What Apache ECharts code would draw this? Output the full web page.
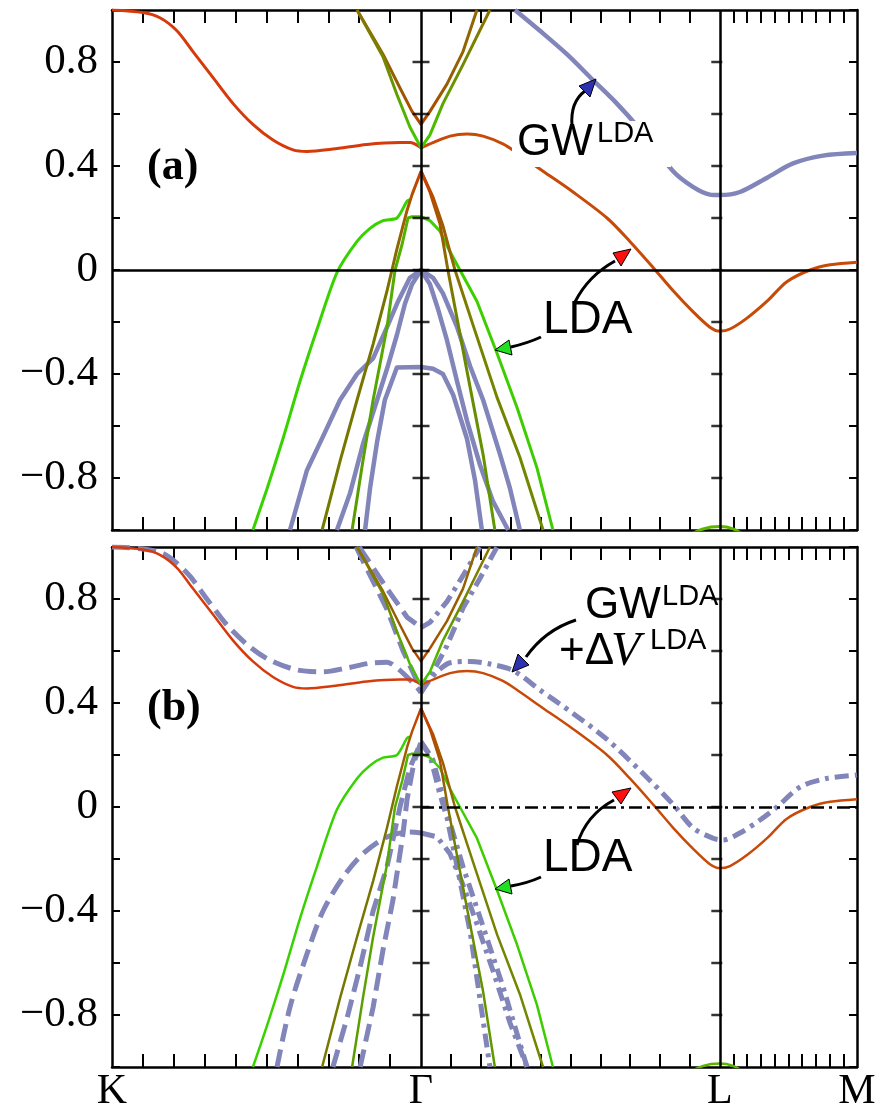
<!DOCTYPE html>
<html><head><meta charset="utf-8">
<script src="https://cdn.jsdelivr.net/npm/echarts@6/dist/echarts.min.js"></script>
<style>html,body{margin:0;padding:0;background:#fff}#c{width:887px;height:1107px}</style>
</head><body><div id="c"></div>
<script>
// ---- k-path (K-Γ = 1 unit) ----
const pathLabels = ['K', 'Γ', 'L', 'M'];
const pathPos = [0, 1, 1.967, 2.411];
const yTickVals = [-0.8, -0.6, -0.4, -0.2, 0, 0.2, 0.4, 0.6, 0.8];

// ---- LDA bands (identical in both panels) ----
const ldaRedKG = [[0,1.0],[0.10,0.99],[0.155,0.97],[0.21,0.92],[0.262,0.84],[0.327,0.74],[0.392,0.64],[0.456,0.56],[0.521,0.50],[0.586,0.462],[0.631,0.456],[0.715,0.465],[0.825,0.483],[0.932,0.49],[0.964,0.49],[1.0,0.47]];
const ldaRedGLM = [[1.0,0.47],[1.039,0.49],[1.094,0.515],[1.149,0.523],[1.201,0.515],[1.265,0.485],[1.311,0.45],[1.395,0.38],[1.492,0.30],[1.602,0.20],[1.676,0.11],[1.751,0.01],[1.816,-0.08],[1.880,-0.16],[1.935,-0.22],[1.967,-0.235],[2.0,-0.227],[2.055,-0.185],[2.120,-0.12],[2.184,-0.045],[2.259,0.0],[2.324,0.02],[2.411,0.03]];
const ldaVbrown = [[0.793,1.0],[0.877,0.83],[0.932,0.70],[0.971,0.61],[1.0,0.56],[1.029,0.61],[1.084,0.715],[1.136,0.84],[1.181,1.0]];
const ldaVgreen = [[0.793,1.0],[0.877,0.82],[0.922,0.675],[0.964,0.55],[1.0,0.47],[1.029,0.52],[1.071,0.64],[1.136,0.79],[1.223,1.0]];
const ldaWideGreen = [[0.456,-1.0],[0.502,-0.84],[0.553,-0.65],[0.608,-0.43],[0.663,-0.23],[0.728,-0.01],[0.793,0.11],[0.835,0.16],[0.877,0.19],[0.922,0.20],[0.955,0.265],[0.964,0.27]];
const ldaOlive = [[0.680,-1.0],[0.738,-0.735],[0.793,-0.50],[0.845,-0.285],[0.890,-0.08],[0.906,0.0],[0.922,0.08],[0.955,0.23],[0.971,0.29],[1.0,0.38]];
const ldaPlateau = [[0.777,-1.0],[0.812,-0.735],[0.845,-0.50],[0.890,-0.22],[0.916,0.0],[0.939,0.10],[0.958,0.20],[0.971,0.205],[1.0,0.205],[1.029,0.19],[1.061,0.15],[1.094,0.07],[1.126,0.0],[1.181,-0.12],[1.246,-0.32],[1.311,-0.53],[1.375,-0.76],[1.427,-1.0]];
const ldaR1 = [[1.0,0.38],[1.029,0.30],[1.061,0.18],[1.087,0.0],[1.149,-0.39],[1.201,-0.71],[1.239,-1.0]];
const ldaR2 = [[1.0,0.38],[1.039,0.28],[1.071,0.17],[1.110,0.0],[1.168,-0.21],[1.246,-0.49],[1.320,-0.72],[1.395,-1.0]];
const ldaArcL = [[1.854,-1.03],[1.913,-0.996],[1.967,-0.987],[2.010,-0.996],[2.049,-1.023]];

// ---- GW^LDA (panel a) ----
const gwCond = [[1.304,1.0],[1.385,0.92],[1.472,0.83],[1.557,0.73],[1.634,0.64],[1.702,0.55],[1.816,0.38],[1.880,0.32],[1.935,0.29],[1.967,0.288],[2.032,0.30],[2.120,0.355],[2.204,0.41],[2.301,0.44],[2.411,0.45]];
const gwVal1 = [[0.576,-1.0],[0.631,-0.77],[0.683,-0.64],[0.738,-0.50],[0.793,-0.40],[0.845,-0.34],[0.890,-0.22],[0.926,-0.12],[0.964,-0.03],[1.0,0.0],[1.039,-0.03],[1.071,-0.09],[1.117,-0.22],[1.159,-0.37],[1.201,-0.50],[1.256,-0.71],[1.288,-0.84],[1.320,-1.0]];
const gwVal2 = [[0.728,-1.0],[0.770,-0.86],[0.812,-0.67],[0.858,-0.50],[0.890,-0.38],[0.922,-0.25],[0.948,-0.13],[0.971,-0.055],[1.0,0.0],[1.029,-0.055],[1.055,-0.15],[1.084,-0.27],[1.117,-0.43],[1.149,-0.58],[1.191,-0.75],[1.233,-0.89],[1.282,-1.0]];
const gwVal3 = [[0.819,-1.0],[0.835,-0.84],[0.858,-0.66],[0.883,-0.50],[0.922,-0.375],[1.0,-0.373],[1.039,-0.38],[1.071,-0.40],[1.104,-0.48],[1.149,-0.65],[1.175,-0.81],[1.197,-1.0]];

// ---- GW^LDA + ΔV^LDA (panel b) ----
const gwdKG = [[0,1.0],[0.155,0.98],[0.243,0.90],[0.307,0.80],[0.372,0.70],[0.447,0.615],[0.511,0.565],[0.599,0.527],[0.683,0.52],[0.761,0.535],[0.835,0.553],[0.890,0.557],[0.922,0.535],[0.955,0.50],[0.987,0.46],[1.0,0.44]];
const gwdGLM = [[1.0,0.44],[1.023,0.48],[1.052,0.52],[1.094,0.555],[1.159,0.56],[1.223,0.55],[1.298,0.525],[1.385,0.45],[1.492,0.36],[1.602,0.26],[1.709,0.14],[1.816,0.01],[1.880,-0.08],[1.945,-0.12],[1.977,-0.127],[2.032,-0.10],[2.097,-0.05],[2.152,0.0],[2.227,0.077],[2.314,0.11],[2.411,0.123]];
const gwdCv1L = [[0.800,1.0],[0.890,0.84],[0.955,0.73],[1.0,0.69]];
const gwdCv1R = [[1.0,0.69],[1.029,0.71],[1.084,0.79],[1.136,0.89],[1.181,0.98],[1.19,1.0]];
const gwdCv2L = [[0.790,1.0],[0.890,0.76],[0.942,0.60],[0.981,0.50],[1.0,0.44]];
const gwdCv2R = [[1.0,0.44],[1.039,0.52],[1.084,0.62],[1.136,0.765],[1.191,0.88],[1.246,1.0]];
const gwdV1L = [[0.534,-1.0],[0.576,-0.77],[0.631,-0.565],[0.683,-0.40],[0.748,-0.27],[0.812,-0.18],[0.890,-0.115],[0.964,-0.096],[1.0,-0.10]];
const gwdV1R = [[1.0,-0.10],[1.052,-0.115],[1.094,-0.18],[1.136,-0.30],[1.181,-0.45],[1.233,-0.63],[1.288,-0.83],[1.343,-1.0]];
const gwdV2L = [[0.715,-1.0],[0.761,-0.81],[0.803,-0.615],[0.845,-0.40],[0.890,-0.23],[0.932,0.0],[0.964,0.15],[1.0,0.25]];
const gwdV2R = [[1.0,0.25],[1.029,0.20],[1.061,0.05],[1.084,-0.04],[1.117,-0.23],[1.159,-0.48],[1.191,-0.74],[1.223,-1.0]];
const gwdV3L = [[0.803,-1.0],[0.845,-0.77],[0.877,-0.55],[0.909,-0.36],[0.942,-0.10],[0.955,0.03],[0.977,0.17],[1.0,0.25]];
const gwdV3R = [[1.0,0.25],[1.039,0.18],[1.084,-0.02],[1.136,-0.23],[1.201,-0.46],[1.265,-0.69],[1.343,-1.0]];

// ---------------------------------------------------------------
const SERIF = 'Liberation Serif';
const GWC = '#8185b9';
const DASH = [18, 8];
const DASHDOT = [14, 6, 4, 6];

const xTickVals = [];
for (let s = 0; s < 3; s++) {
  for (let k = 1; k < 10; k++) xTickVals.push(pathPos[s] + k * (pathPos[s + 1] - pathPos[s]) / 10);
}

function vgrad(stops) { return {type:'linear', x:0, y:0, x2:0, y2:1, global:false, colorStops: stops.map(s => ({offset:s[0], color:s[1]}))}; }
function hgrad(stops) { return {type:'linear', x:0, y:0, x2:1, y2:0, global:false, colorStops: stops.map(s => ({offset:s[0], color:s[1]}))}; }

function band(gi, data, color, width, dash, smooth, z) {
  return {
    type:'line', xAxisIndex: gi * 2, yAxisIndex: gi * 2, data: data,
    symbol:'none', showSymbol:false, smooth: smooth || false, clip: true,
    lineStyle:{color: color, width: width, type: dash || 'solid', cap:'butt', join:'round'},
    itemStyle:{color: typeof color === 'string' ? color : '#888'},
    silent:true, animation:false, z: z || 3, emphasis:{disabled:true}
  };
}

function xLabel(v) {
  for (let i = 0; i < pathPos.length; i++) if (Math.abs(pathPos[i] - v) < 1e-6) return pathLabels[i];
  return '';
}
function yLabel(v) {
  if (Math.abs(v) > 0.95) return '';
  const r = v / 0.4;
  if (Math.abs(r - Math.round(r)) > 1e-6) return '';
  if (Math.abs(v) < 1e-9) return '0';
  return (v < 0 ? '\u2212' : '') + Math.abs(v).toFixed(1);
}

const axLine = {onZero:false, lineStyle:{color:'#000', width:2.5}};
function xAxes(gi, showLabels) {
  const base = {gridIndex: gi, type:'value', min: 0, max: pathPos[3], splitLine:{show:false},
    axisLine: axLine,
    axisTick:{show:true, inside:true, length:13, customValues: xTickVals, lineStyle:{color:'#000', width:2}}};
  return [
    Object.assign({}, base, {position:'bottom', axisLabel:{show: showLabels, customValues: pathPos, formatter: xLabel,
      showMinLabel:true, showMaxLabel:true, margin:4, fontFamily: SERIF, fontSize:42, color:'#000'}}),
    Object.assign({}, base, {position:'top', axisLabel:{show:false}})
  ];
}
function yAxes(gi) {
  const base = {gridIndex: gi, type:'value', min:-1, max:1, interval:0.2, splitLine:{show:false},
    axisLine: axLine, axisTick:{show:true, inside:true, length:8, lineStyle:{color:'#000', width:2}}};
  return [
    Object.assign({}, base, {position:'left', axisLabel:{show:true, formatter: yLabel, margin:14,
      fontFamily: SERIF, fontSize:43, color:'#000'}}),
    Object.assign({}, base, {position:'right', axisLabel:{show:false}})
  ];
}

function crossTicks(gi) {
  return [
    {type:'scatter', xAxisIndex: gi * 2, yAxisIndex: gi * 2, data: yTickVals.map(v => [pathPos[1], v]),
     symbol:'rect', symbolSize:[17, 2.5], itemStyle:{color:'#000'}, silent:true, animation:false, z:4},
    {type:'scatter', xAxisIndex: gi * 2, yAxisIndex: gi * 2, data: yTickVals.map(v => [pathPos[2], v]),
     symbol:'rect', symbolSize:[11, 2.5], symbolOffset:[-3, 0], itemStyle:{color:'#000'}, silent:true, animation:false, z:4}
  ];
}

function ldaSeries(gi, w) {
  return [
    band(gi, ldaRedKG, '#d63a0a', w, null, 0.3),
    band(gi, ldaRedGLM, '#c84a08', w, null, 0.3),
    band(gi, ldaVbrown, vgrad([[0,'#8d6a00'],[0.7,'#9a5a00'],[1,'#b84400']]), w),
    band(gi, ldaVgreen, vgrad([[0,'#8a7000'],[0.5,'#6b9000'],[1,'#3fd000']]), w),
    band(gi, ldaWideGreen, '#38d200', w, null, 0.25),
    band(gi, ldaOlive, vgrad([[0,'#d03c00'],[0.1,'#a85800'],[0.3,'#7a7200'],[1,'#747a00']]), w),
    band(gi, ldaPlateau, hgrad([[0,'#5c9a00'],[0.3,'#50b400'],[0.4,'#40d000'],[1,'#3ccc00']]), w),
    band(gi, ldaR1, vgrad([[0,'#d03c00'],[0.15,'#a05800'],[0.4,'#6e8400'],[1,'#5e9a00']]), w),
    band(gi, ldaR2, vgrad([[0,'#d03c00'],[0.15,'#a05a00'],[0.4,'#788000'],[1,'#6e8a00']]), w),
    band(gi, ldaArcL, '#5cb400', w, null, 0.4)
  ];
}

// markLines: Γ and L verticals, Fermi level
const vLines = [{xAxis: pathPos[1]}, {xAxis: pathPos[2]}];
const mlBase = {silent:true, symbol:['none','none'], label:{show:false}, animation:false,
  lineStyle:{color:'#000', width:2.5, type:'solid'}, emphasis:{disabled:true}};

const seriesA = [
  band(0, gwVal1, GWC, 4.5), band(0, gwVal2, GWC, 4.5), band(0, gwVal3, GWC, 4.5),
  band(0, gwCond, GWC, 4.5, null, 0.3)
].concat(ldaSeries(0, 3));
seriesA.push(Object.assign(band(0, [], '#000', 2.5), {markLine: Object.assign({}, mlBase, {data: vLines.concat([{yAxis: 0}])})}));

const seriesB = [
  band(1, gwdKG, GWC, 5, DASH, 0.3), band(1, gwdGLM, GWC, 5, DASHDOT, 0.3),
  band(1, gwdCv1L, GWC, 5, DASH), band(1, gwdCv1R, GWC, 5, DASHDOT),
  band(1, gwdCv2L, GWC, 5, DASH), band(1, gwdCv2R, GWC, 5, DASHDOT),
  band(1, gwdV1L, GWC, 5, DASH, 0.3), band(1, gwdV1R, GWC, 5, DASHDOT),
  band(1, gwdV2L, GWC, 5, DASH), band(1, gwdV2R, GWC, 5, DASHDOT),
  band(1, gwdV3L, GWC, 5, DASH), band(1, gwdV3R, GWC, 5, DASHDOT)
].concat(ldaSeries(1, 2.5));
seriesB.push(Object.assign(band(1, [], '#000', 2.5), {markLine: Object.assign({}, mlBase, {data: vLines.concat([
  [{coord:[pathPos[1], 0], lineStyle:{type:[13,5,3,5], width:2.5, color:'#000'}}, {coord:[pathPos[3], 0]}]
])})}));

// ---- annotations ----
function txt(x, y, s, font) {
  return {type:'text', x: x, y: y, z: 101, silent:true,
    style:{text: s, font: font, fill:'#000', align:'left', verticalAlign:'middle', textAlign:'left', textVerticalAlign:'middle'}};
}
function curve(x1, y1, cx, cy, x2, y2) {
  return {type:'bezierCurve', z:101, silent:true, shape:{x1:x1, y1:y1, cpx1:cx, cpy1:cy, x2:x2, y2:y2},
    style:{stroke:'#000', lineWidth:3, fill:null}};
}
function head(pts, color) {
  return {type:'polygon', z:102, silent:true, shape:{points: pts}, style:{fill: color, stroke:'#000', lineWidth:1}};
}
const BLUE = '#2e32b0', RED = '#ff1010', GREEN = '#20e020';
const SERIF_F = '"Liberation Serif", serif', SANS_F = '"Liberation Sans", sans-serif';
const graphics = [
  // panel (a)
  txt(147, 168, '(a)', 'bold 44px ' + SERIF_F),
  {type:'rect', z:100, silent:true, shape:{x:512, y:121, width:159, height:46}, style:{fill:'#fff'}},
  txt(517, 143, 'GW', '44px ' + SANS_F),
  txt(597, 134, 'LDA', '29px ' + SANS_F),
  curve(572, 126, 570, 102, 585, 91), head([[596,79],[579,86],[590,97]], BLUE),
  txt(543, 320, 'LDA', '46px ' + SANS_F),
  curve(575, 302, 588, 276, 615, 261), head([[631,249],[613,253],[621,266]], RED),
  curve(541, 337, 528, 343, 511, 347), head([[495,350],[512,355],[509,340]], GREEN),
  // panel (b)
  txt(147, 709, '(b)', 'bold 44px ' + SERIF_F),
  txt(585, 606, 'GW', '44px ' + SANS_F),
  txt(662, 597, 'LDA', '29px ' + SANS_F),
  txt(559, 652, '+Δ', '44px ' + SANS_F),
  txt(611, 652, 'V', 'italic 48px ' + SERIF_F),
  txt(650, 641, 'LDA', '29px ' + SANS_F),
  curve(576, 620, 545, 630, 526, 657), head([[512,672],[529,665],[518,654]], BLUE),
  txt(543, 858, 'LDA', '46px ' + SANS_F),
  curve(577, 845, 586, 815, 614, 800), head([[631,788],[621,804],[612,792]], RED),
  curve(541, 877, 528, 883, 511, 886), head([[495,889],[512,894],[509,879]], GREEN)
];

const chart = echarts.init(document.getElementById('c'), null, {renderer:'canvas', width:887, height:1107});
chart.setOption({
  backgroundColor:'#ffffff',
  animation:false,
  grid:[{left:112, top:10, width:745, height:520, outerBoundsMode:'none', containLabel:false},
        {left:112, top:547, width:745, height:520, outerBoundsMode:'none', containLabel:false}],
  xAxis: xAxes(0, false).concat(xAxes(1, true)),
  yAxis: yAxes(0).concat(yAxes(1)),
  series: seriesA.concat(crossTicks(0), seriesB, crossTicks(1)),
  graphic: graphics
});
</script></body></html>
